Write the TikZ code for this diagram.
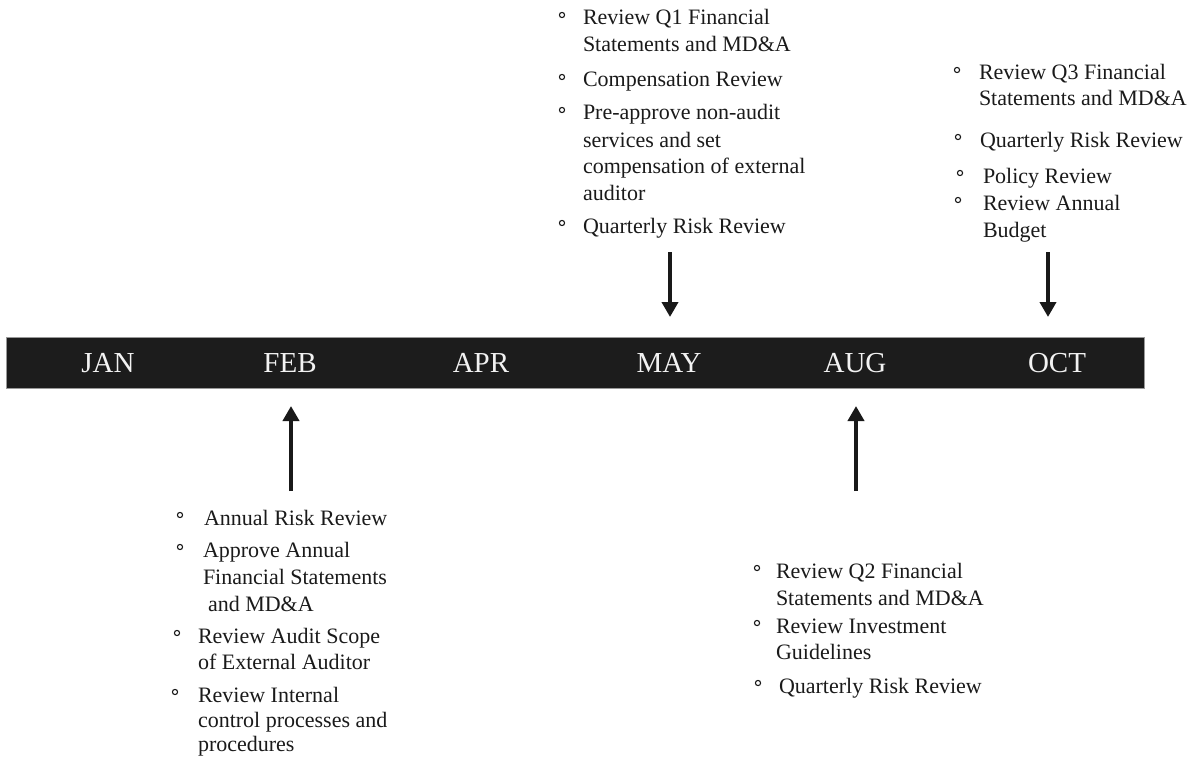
\documentclass[tikz,border=0pt]{standalone}
\usepackage{fontspec}
\setmainfont{Liberation Serif}
\usetikzlibrary{arrows.meta}
\definecolor{barfill}{HTML}{1C1C1C}
\definecolor{bartxt}{HTML}{F2F2F2}
\definecolor{txtcol}{HTML}{1A1A1A}
\tikzset{
  txt/.style={anchor=base west, inner sep=0pt, outer sep=0pt, text=txtcol, font=\fontsize{22}{26}\selectfont},
  month/.style={inner sep=0pt, text=bartxt, font=\fontsize{29}{32}\selectfont},
  bul/.style={draw=txtcol, line width=1.1pt},
  evarrow/.style={draw=black!90, line width=4.5pt, -{Triangle[width=16pt,length=15pt]}},
}
\begin{document}
\begin{tikzpicture}[x=1pt,y=-1pt]
\useasboundingbox (0,0) rectangle (1198,757);
% timeline bar
\node[draw=black!40, line width=1pt, fill=barfill, minimum width=1138pt, minimum height=51pt, inner sep=0pt, anchor=north west] (bar) at (6,337) {};
\node[month] (jan) at (108,363) {JAN};
\node[month] (feb) at (290,363) {FEB};
\node[month] (apr) at (481,363) {APR};
\node[month] (may) at (669,363) {MAY};
\node[month] (aug) at (855,363) {AUG};
\node[month] (oct) at (1057,363) {OCT};

% MAY block
\node[txt] (m1) at (583,25) {Review Q1 Financial};
\node[txt] (m2) at (583,52) {Statements and MD\&A};
\node[txt] (m3) at (583,87) {Compensation Review};
\node[txt] (m4) at (583,120) {Pre-approve non-audit};
\node[txt] (m5) at (583,147) {services and set};
\node[txt] (m6) at (583,173) {compensation of external};
\node[txt] (m7) at (583,200) {auditor};
\node[txt] (m8) at (583,233) {Quarterly Risk Review};
\foreach \y in {15,77,110,223} \draw[bul] (562,\y) circle (2.6);

% OCT block
\node[txt] (o1) at (979,80) {Review Q3 Financial};
\node[txt] (o2) at (979,106) {Statements and MD\&A};
\node[txt] (o3) at (980,147) {Quarterly Risk Review};
\node[txt] (o4) at (983,183) {Policy Review};
\node[txt] (o5) at (983,210) {Review Annual};
\node[txt] (o6) at (983,237) {Budget};
\draw[bul] (957,70) circle (2.6);
\draw[bul] (958,137) circle (2.6);
\draw[bul] (960,173) circle (2.6);
\draw[bul] (958,200) circle (2.6);

% FEB block
\node[txt] (f1) at (204,525) {Annual Risk Review};
\node[txt] (f2) at (203,557) {Approve Annual};
\node[txt] (f3) at (203,584) {Financial Statements};
\node[txt] (f4) at (208,611) {and MD\&A};
\node[txt] (f5) at (198,643) {Review Audit Scope};
\node[txt] (f6) at (198,669) {of External Auditor};
\node[txt] (f7) at (198,702) {Review Internal};
\node[txt] (f8) at (198,727) {control processes and};
\node[txt] (f9) at (198,751) {procedures};
\draw[bul] (180,515) circle (2.6);
\draw[bul] (180,547) circle (2.6);
\draw[bul] (177,633) circle (2.6);
\draw[bul] (175,692) circle (2.6);

% AUG block
\node[txt] (g1) at (776,578) {Review Q2 Financial};
\node[txt] (g2) at (776,605) {Statements and MD\&A};
\node[txt] (g3) at (776,633) {Review Investment};
\node[txt] (g4) at (776,659) {Guidelines};
\node[txt] (g5) at (779,693) {Quarterly Risk Review};
\draw[bul] (757,568) circle (2.6);
\draw[bul] (757,623) circle (2.6);
\draw[bul] (758,683) circle (2.6);

% arrows
\coordinate (mayS) at (670,252);
\coordinate (mayE) at (670,317);
\coordinate (octS) at (1048,252);
\coordinate (octE) at (1048,317);
\coordinate (febS) at (291,491);
\coordinate (febE) at (291,406);
\coordinate (augS) at (856,491);
\coordinate (augE) at (856,406);
\draw[evarrow] (mayS) -- (mayE);
\draw[evarrow] (octS) -- (octE);
\draw[evarrow] (febS) -- (febE);
\draw[evarrow] (augS) -- (augE);
\end{tikzpicture}
\end{document}
